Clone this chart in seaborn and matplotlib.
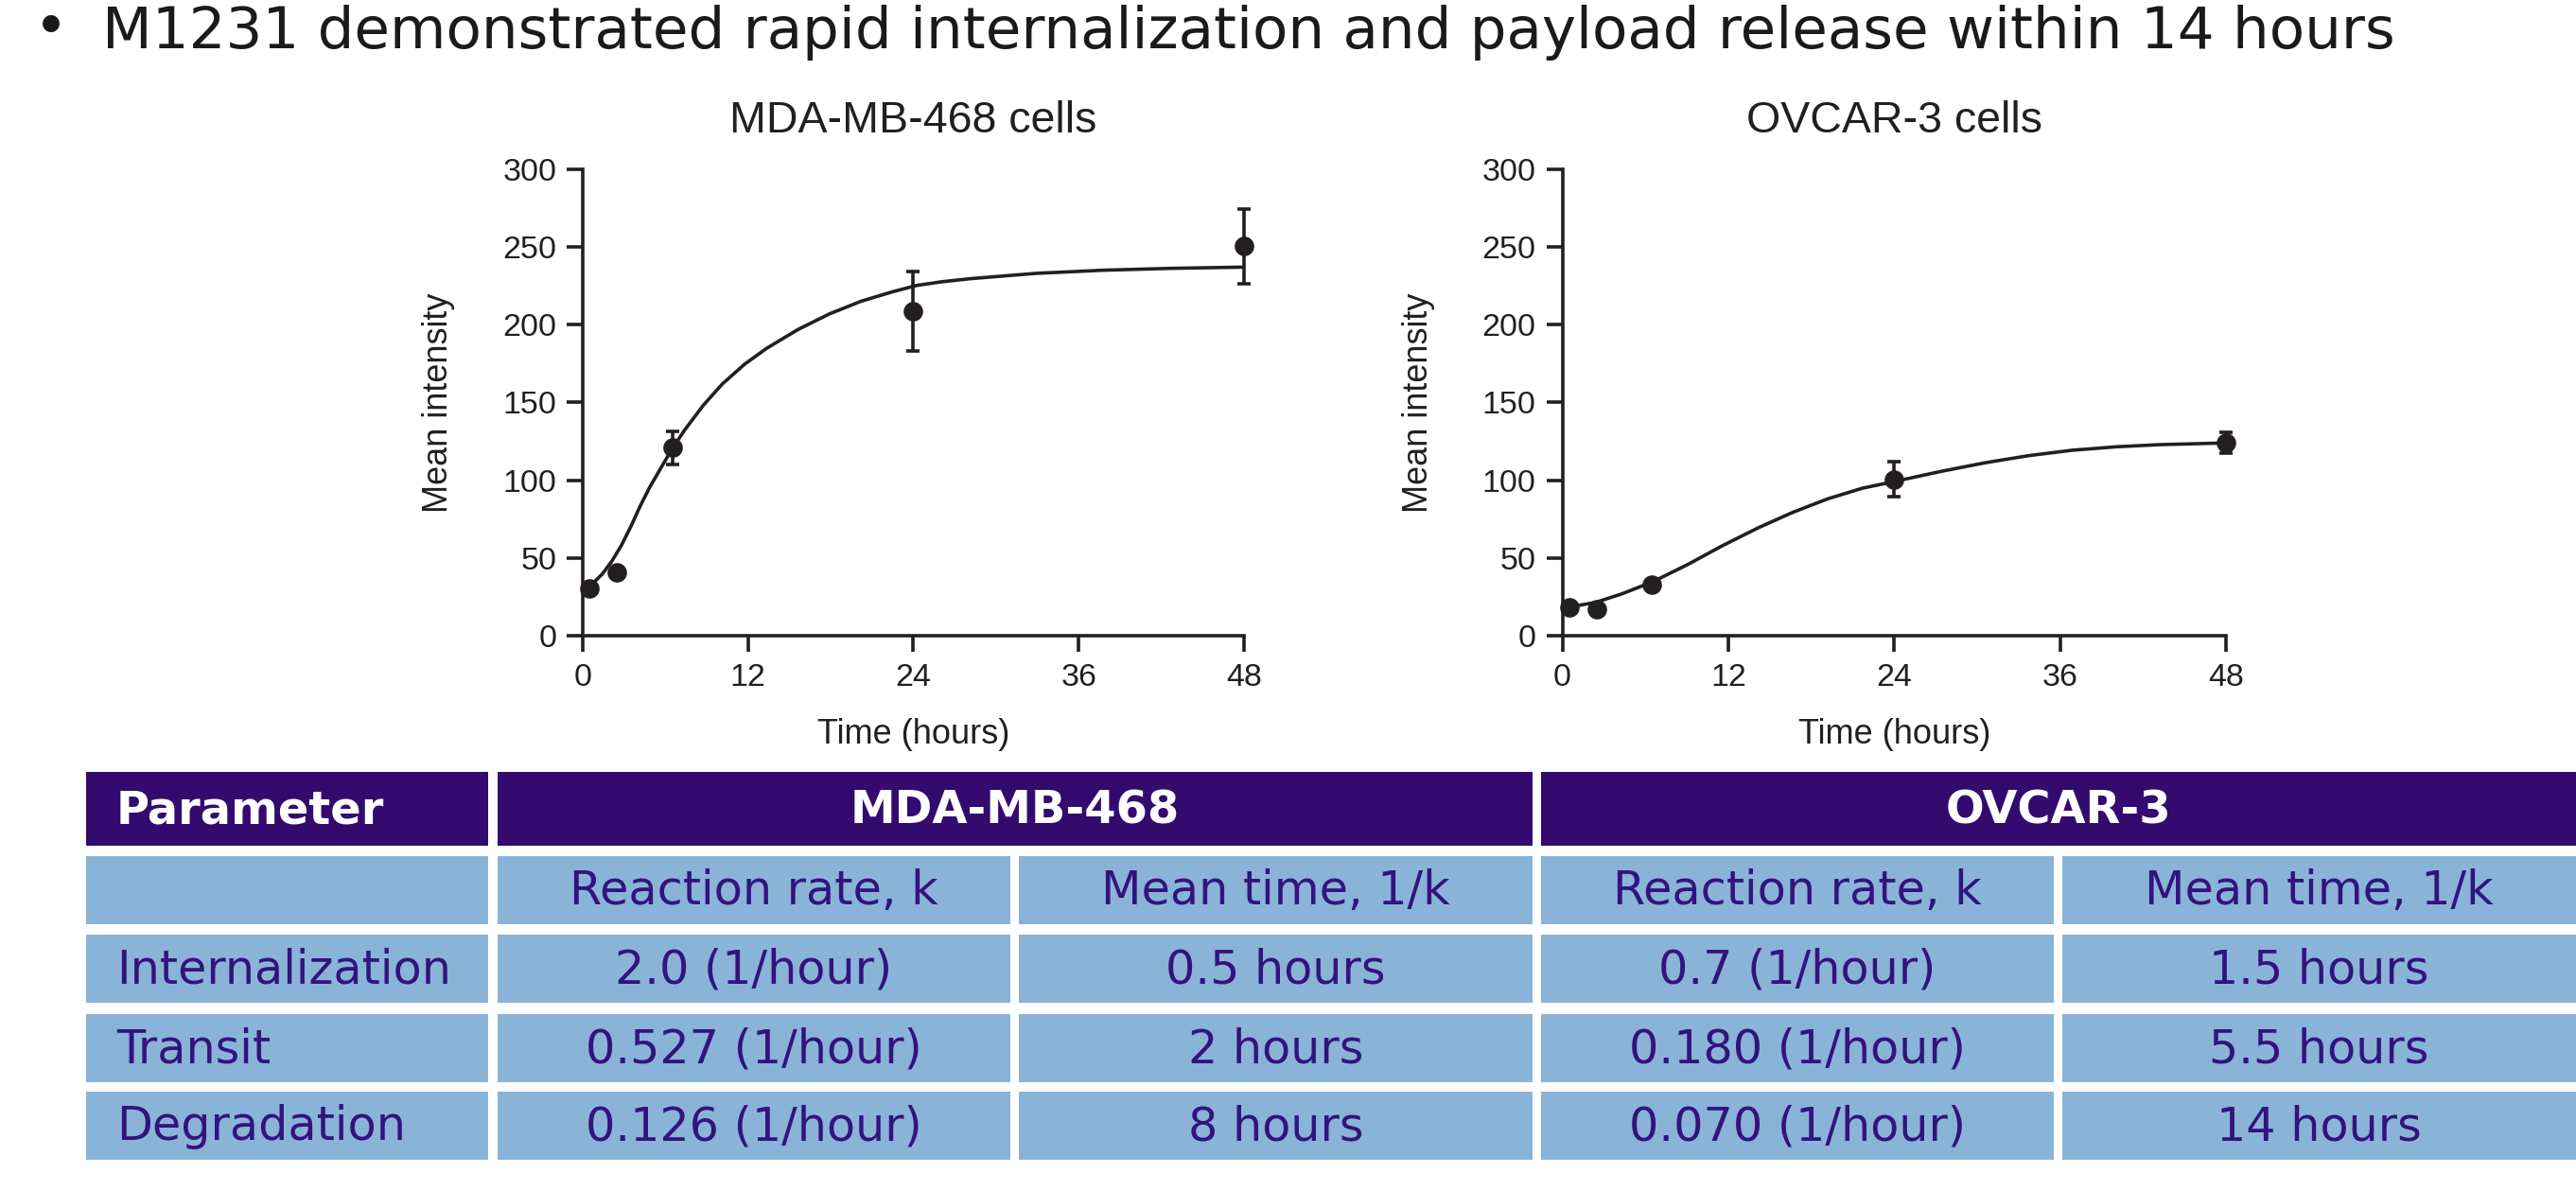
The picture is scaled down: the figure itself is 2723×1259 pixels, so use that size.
import matplotlib
matplotlib.use("Agg")
import matplotlib.pyplot as plt
from matplotlib.patches import Rectangle
import seaborn as sns
import pandas as pd

# ---------------- data ----------------
headline = "M1231 demonstrated rapid internalization and payload release within 14 hours"

time_points = [0.5, 2.5, 6.5, 24, 48]

mda_title = "MDA-MB-468 cells"
mda_mean = [30.6, 40.8, 120.8, 208.8, 250.6]
mda_err = [0.0, 0.0, 10.5, 25.7, 24.1]
mda_fit_t = [0.5, 0.62, 1.42, 2.11, 2.80, 3.49, 4.17, 4.86, 5.66, 6.47, 7.38, 8.76, 10.13,
             11.74, 13.34, 15.63, 17.93, 20.22, 22.51, 24.23, 26.0, 28.06, 32.92, 37.79,
             42.65, 48]
mda_fit_y = [31.8, 32.7, 39.7, 47.9, 58.0, 70.2, 83.4, 95.5, 107.7, 119.9, 132.1, 148.3, 161.9,
             174.6, 184.8, 197.0, 207.1, 215.2, 221.3, 225.3, 227.6, 229.6, 233.1, 235.1,
             236.3, 237.1]

ovcar_title = "OVCAR-3 cells"
ovcar_mean = [18.0, 17.3, 32.7, 100.6, 123.9]
ovcar_err = [0.0, 0.0, 0.0, 11.2, 6.7]
ovcar_fit_t = [0.5, 2.43, 4.33, 6.54, 9.07, 11.6, 14.12, 16.65, 19.18, 21.71, 24.23, 27.39,
               30.55, 33.71, 36.87, 40.03, 43.19, 48]
ovcar_fit_y = [18.4, 21.5, 27.0, 34.7, 45.8, 58.0, 69.2, 79.3, 88.0, 94.9, 99.6, 105.7,
               111.2, 115.8, 119.3, 121.5, 122.9, 124.0]

x_ticks = [0, 12, 24, 36, 48]
y_ticks = [0, 50, 100, 150, 200, 250, 300]
x_label = "Time (hours)"
y_label = "Mean intensity"

table_header = ["Parameter", "MDA-MB-468", "OVCAR-3"]
table_subheader = ["", "Reaction rate, k", "Mean time, 1/k", "Reaction rate, k", "Mean time, 1/k"]
table_params = ["Internalization", "Transit", "Degradation"]
mda_rate = ["2.0 (1/hour)", "0.527 (1/hour)", "0.126 (1/hour)"]
mda_time = ["0.5 hours", "2 hours", "8 hours"]
ovcar_rate = ["0.7 (1/hour)", "0.180 (1/hour)", "0.070 (1/hour)"]
ovcar_time = ["1.5 hours", "5.5 hours", "14 hours"]

# ---------------- style ----------------
sns.set_theme(style="ticks")
plt.rcParams['font.family'] = ['Liberation Sans', 'DejaVu Sans']
INK = "#231f20"
HEAD_BG = "#330b6f"
CELL_BG = "#89b4d7"
CELL_TXT = "#34137e"

W, H = 2723, 1259
fig = plt.figure(figsize=(W / 100, H / 100), dpi=100)
fig.patch.set_facecolor("white")

# overlay for headline and table (pixel coordinates)
ov = fig.add_axes([0, 0, 1, 1])
ov.set_xlim(0, W)
ov.set_ylim(H, 0)
ov.axis("off")

ov.text(54, 31, "\u2022", fontsize=44, family="DejaVu Sans", color="#1a1a1a",
        ha="center", va="center")
ov.text(108, 51, headline, fontsize=44, family="DejaVu Sans", color="#1a1a1a",
        ha="left", va="baseline")


def make_chart(rect, title, means, errs, fit_t, fit_y):
    ax = fig.add_axes(rect)
    ax.set_facecolor("none")
    fit = pd.DataFrame({"t": fit_t, "y": fit_y})
    pts = pd.DataFrame({"t": time_points, "y": means, "e": errs})
    sns.lineplot(data=fit, x="t", y="y", ax=ax, color=INK, lw=2.6, sort=False, zorder=2)
    bars = pts[pts["e"] > 0]
    ax.errorbar(bars["t"], bars["y"], yerr=bars["e"], fmt="none", ecolor=INK,
                elinewidth=2.6, capsize=5, capthick=2.6, zorder=3, clip_on=False)
    sns.scatterplot(data=pts, x="t", y="y", ax=ax, color=INK, s=220, edgecolor=INK,
                    linewidth=0, zorder=4, clip_on=False)
    ax.set_xlim(0, 48)
    ax.set_ylim(0, 300)
    ax.set_xticks(x_ticks)
    ax.set_yticks(y_ticks)
    ax.tick_params(axis="both", direction="out", length=12, width=2.6, color=INK,
                   labelsize=24.5, labelcolor=INK)
    ax.tick_params(axis="x", pad=9)
    ax.tick_params(axis="y", pad=8)
    for s in ("top", "right"):
        ax.spines[s].set_visible(False)
    for s in ("left", "bottom"):
        ax.spines[s].set_linewidth(2.6)
        ax.spines[s].set_color(INK)
    ax.set_xlabel(x_label, fontsize=26, color=INK, labelpad=19)
    ax.set_ylabel(y_label, fontsize=26, color=INK, labelpad=36)
    ax.set_title(title, fontsize=33.5, color=INK, pad=28)
    return ax


ax_bottom = 1 - 672 / H
ax_height = (672 - 179) / H
make_chart([616 / W, ax_bottom, 699 / W, ax_height], mda_title, mda_mean, mda_err,
           mda_fit_t, mda_fit_y)
make_chart([1651.5 / W, ax_bottom, 701.5 / W, ax_height], ovcar_title, ovcar_mean, ovcar_err,
           ovcar_fit_t, ovcar_fit_y)

# ---------------- table ----------------
col_edges = [(91, 516), (526, 1068), (1077, 1620), (1629, 2171), (2180, 2723)]
head_spans = [(91, 516), (526, 1620), (1629, 2723)]
row_tops = [905, 988, 1072, 1154]
row_h = 72
head_top, head_h = 816, 78
TFONT = "DejaVu Sans"

for (x0, x1), label in zip(head_spans, table_header):
    ov.add_patch(Rectangle((x0, head_top), x1 - x0, head_h, facecolor=HEAD_BG, edgecolor="none"))
    if label == table_header[0]:
        ov.text(x0 + 32, head_top + 54, label, fontsize=34.5, fontweight="bold", family=TFONT,
                color="white", ha="left", va="baseline")
    else:
        ov.text((x0 + x1) / 2, head_top + 54, label, fontsize=34.5, fontweight="bold",
                family=TFONT, color="white", ha="center", va="baseline")

body_rows = [table_subheader]
for i in range(len(table_params)):
    body_rows.append([table_params[i], mda_rate[i], mda_time[i], ovcar_rate[i], ovcar_time[i]])

for top, row in zip(row_tops, body_rows):
    for j, ((x0, x1), txt) in enumerate(zip(col_edges, row)):
        ov.add_patch(Rectangle((x0, top), x1 - x0, row_h, facecolor=CELL_BG, edgecolor="none"))
        if j == 0:
            ov.text(x0 + 32, top + 51, txt, fontsize=35.5, family=TFONT, color=CELL_TXT,
                    ha="left", va="baseline")
        else:
            ov.text((x0 + x1) / 2, top + 51, txt, fontsize=35.5, family=TFONT, color=CELL_TXT,
                    ha="center", va="baseline")

fig.savefig("out.png", dpi=100, facecolor="white")
